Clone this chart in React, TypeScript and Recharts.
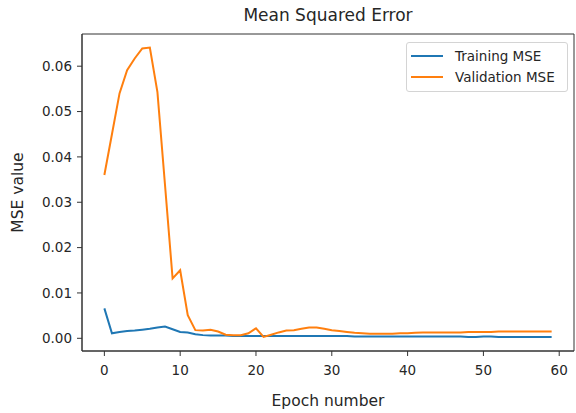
import React from 'react';
import { LineChart, Line, XAxis, YAxis, Legend, ReferenceArea } from 'recharts';

// epoch index (x) and the two loss curves
const epochs = [
  0, 1, 2, 3, 4, 5, 6, 7, 8, 9, 10, 11, 12, 13, 14, 15, 16, 17, 18, 19,
  20, 21, 22, 23, 24, 25, 26, 27, 28, 29, 30, 31, 32, 33, 34, 35, 36, 37, 38, 39,
  40, 41, 42, 43, 44, 45, 46, 47, 48, 49, 50, 51, 52, 53, 54, 55, 56, 57, 58, 59,
];

const trainingMse = [
  0.0066, 0.0011, 0.0014, 0.0016, 0.0017, 0.0019, 0.0021, 0.0024, 0.0026, 0.002,
  0.0014, 0.0013, 0.0009, 0.0007, 0.0006, 0.0006, 0.0006, 0.0005, 0.0005, 0.0005,
  0.0005, 0.0005, 0.0005, 0.0005, 0.0005, 0.0005, 0.0005, 0.0005, 0.0005, 0.0005,
  0.0005, 0.0005, 0.0005, 0.0004, 0.0004, 0.0004, 0.0004, 0.0004, 0.0004, 0.0004,
  0.0004, 0.0004, 0.0004, 0.0004, 0.0004, 0.0004, 0.0004, 0.0004, 0.0003, 0.0003,
  0.0004, 0.0004, 0.0003, 0.0003, 0.0003, 0.0003, 0.0003, 0.0003, 0.0003, 0.0003,
];

const validationMse = [
  0.036, 0.045, 0.054, 0.0591, 0.0617, 0.0639, 0.0641, 0.0543, 0.0338, 0.0132,
  0.015, 0.0051, 0.0018, 0.0017, 0.0019, 0.0015, 0.0008, 0.0007, 0.0007, 0.0011,
  0.0022, 0.0003, 0.0008, 0.0013, 0.0017, 0.0018, 0.0021, 0.0024, 0.0024, 0.0021,
  0.0018, 0.0016, 0.0014, 0.0012, 0.0011, 0.001, 0.001, 0.001, 0.001, 0.0011,
  0.0011, 0.0012, 0.0013, 0.0013, 0.0013, 0.0013, 0.0013, 0.0013, 0.0014, 0.0014,
  0.0014, 0.0014, 0.0015, 0.0015, 0.0015, 0.0015, 0.0015, 0.0015, 0.0015, 0.0015,
];

const xTicks = [0, 10, 20, 30, 40, 50, 60];
const yTicks = [0, 0.01, 0.02, 0.03, 0.04, 0.05, 0.06];
const xDomain = [-2.95, 61.95];
const yDomain = [-0.0028, 0.0671];

const seriesNames = ['Training MSE', 'Validation MSE'];
const seriesColors = ['#1f77b4', '#ff7f0e'];

const data = epochs.map((epoch, i) => ({
  epoch,
  training: trainingMse[i],
  validation: validationMse[i],
}));

const FONT = '"DejaVu Sans", sans-serif';
const AXIS = '#333';
const TEXT = '#262626';

const LegendBox = () => (
  <div
    style={{
      border: '1px solid #d4d4d4',
      borderRadius: 3,
      background: '#fff',
      padding: '3px 6px 4px 4px',
      fontFamily: FONT,
      fontSize: 13.5,
      color: TEXT,
    }}
  >
    {seriesNames.map((name, i) => (
      <div key={name} style={{ display: 'flex', alignItems: 'center', height: 20.5 }}>
        <svg width={32} height={4} style={{ marginRight: 12 }}>
          <line x1={0} y1={2} x2={32} y2={2} stroke={seriesColors[i]} strokeWidth={2} />
        </svg>
        <span>{name}</span>
      </div>
    ))}
  </div>
);

const App: React.FC = () => {
  return (
    <div style={{ position: 'absolute', left: 0, top: 0, width: 576, height: 413, background: '#fff' }}>
      <div
        style={{
          position: 'absolute',
          left: 82,
          top: 5,
          width: 492,
          textAlign: 'center',
          fontFamily: FONT,
          fontSize: 17,
          lineHeight: '20px',
          color: TEXT,
        }}
      >
        Mean Squared Error
      </div>
      <LineChart width={576} height={413} data={data} margin={{ top: 34, right: 2, left: 0, bottom: 0 }}>
        <XAxis
          dataKey="epoch"
          type="number"
          domain={xDomain}
          ticks={xTicks}
          allowDataOverflow
          height={62}
          stroke={AXIS}
          tickSize={5}
          tickMargin={9}
          tick={{ fill: TEXT, fontSize: 13.5, fontFamily: FONT }}
          label={{
            value: 'Epoch number',
            position: 'insideBottom',
            offset: 7,
            fill: TEXT,
            fontSize: 15.5,
            fontFamily: FONT,
          }}
        />
        <YAxis
          type="number"
          domain={yDomain}
          ticks={yTicks}
          allowDataOverflow
          width={82}
          stroke={AXIS}
          tickSize={5}
          tickMargin={5}
          tickFormatter={(v: number) => v.toFixed(2)}
          tick={{ fill: TEXT, fontSize: 13.5, fontFamily: FONT }}
          label={(props: any) => {
            const vb = props.viewBox || { x: 0, y: 34, height: 317 };
            const cx = vb.x + 18;
            const cy = vb.y + vb.height / 2;
            return (
              <text
                x={cx}
                y={cy}
                transform={`rotate(-90, ${cx}, ${cy})`}
                textAnchor="middle"
                dominantBaseline="central"
                fill={TEXT}
                fontSize={15.5}
                fontFamily={FONT}
              >
                MSE value
              </text>
            );
          }}
        />
        {/* box round the plot area, like the matplotlib spines */}
        <ReferenceArea
          x1={xDomain[0]}
          x2={xDomain[1]}
          y1={yDomain[0]}
          y2={yDomain[1]}
          fill="none"
          stroke={AXIS}
          strokeWidth={1}
          ifOverflow="visible"
        />
        <Legend
          layout="horizontal"
          align="center"
          verticalAlign="middle"
          content={<LegendBox />}
          wrapperStyle={{ top: 42, left: 406, width: 162, bottom: 'auto', right: 'auto' }}
        />
        <Line
          type="linear"
          dataKey="training"
          name={seriesNames[0]}
          stroke={seriesColors[0]}
          strokeWidth={2}
          dot={false}
          isAnimationActive={false}
        />
        <Line
          type="linear"
          dataKey="validation"
          name={seriesNames[1]}
          stroke={seriesColors[1]}
          strokeWidth={2}
          dot={false}
          isAnimationActive={false}
        />
      </LineChart>
    </div>
  );
};

export default App;
